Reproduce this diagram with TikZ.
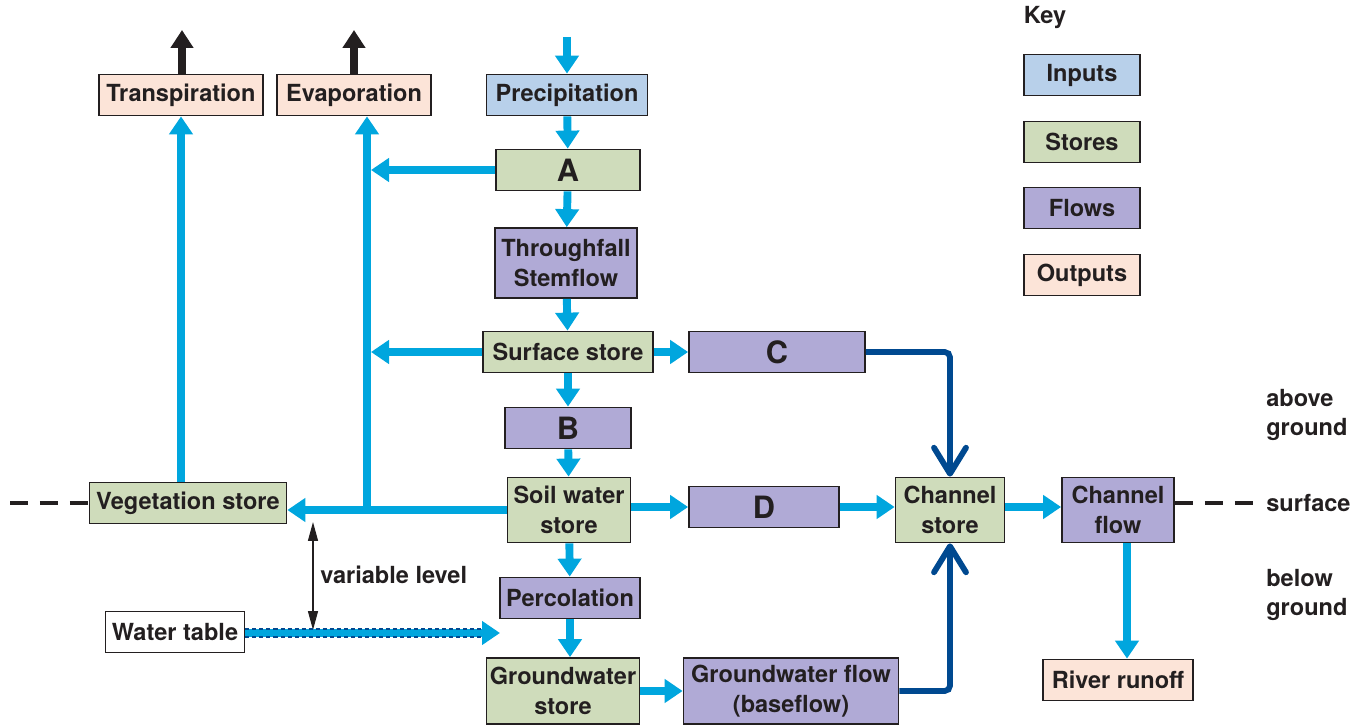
\documentclass[tikz,border=0pt]{standalone}
\usepackage{fontspec}
\setmainfont{TeX Gyre Heros}
\usepackage{tikz}
\usetikzlibrary{arrows.meta, positioning, calc}
\definecolor{ink}{RGB}{35,31,32}
\definecolor{flowblue}{RGB}{0,166,222}
\definecolor{deepblue}{RGB}{0,73,144}
\definecolor{inputfill}{RGB}{184,208,234}
\definecolor{storefill}{RGB}{207,220,187}
\definecolor{flowfill}{RGB}{176,170,214}
\definecolor{outputfill}{RGB}{252,228,216}
\newcommand{\diafont}{\fontsize{13.4}{17}\selectfont\bfseries}
\newcommand{\letterfont}{\fontsize{17.5}{20}\selectfont\bfseries}
\tikzstyle{box} = [rectangle, draw=ink, line width=1pt, inner sep=0pt, minimum height=0.82cm, align=center, text=ink, font=\diafont]
\tikzstyle{input} = [box, fill=inputfill]
\tikzstyle{store} = [box, fill=storefill]
\tikzstyle{flow} = [box, fill=flowfill]
\tikzstyle{output} = [box, fill=outputfill]
\tikzstyle{plainbox} = [box, fill=white]
\tikzstyle{side} = [anchor=west, align=left, inner sep=0pt, text=ink, font=\diafont]
\tikzstyle{arrow} = [line width=4.5pt, flowblue, -{Triangle[length=3.6mm, width=4.6mm]}]
\tikzstyle{uparrow} = [line width=4.5pt, ink, -{Triangle[length=3.6mm, width=4.4mm]}]
\tikzstyle{quickflow} = [line width=3.3pt, deepblue, rounded corners=3pt, -{Straight Barb[length=5.2mm, width=6.4mm, round]}]
\tikzstyle{ground} = [line width=2.5pt, ink, dash pattern=on 0.36cm off 0.24cm]
\tikzstyle{vlarrow} = [line width=0.8pt, ink, {Triangle[length=3.8mm, width=2mm]}-{Triangle[length=3.8mm, width=2mm]}]
\tikzstyle{wtdots} = [line width=5.7pt, deepblue, dash pattern=on 2.3pt off 1.7pt]

\begin{document}
\begin{tikzpicture}[x=0.02cm, y=-0.02cm]
    \useasboundingbox (0,0) rectangle (1370,726);

    % Outputs
    \node[output, minimum width=3.28cm] (transp) at (181,95) {Transpiration};
    \node[output, minimum width=3.08cm] (evap) at (354,95) {Evaporation};

    % Main column
    \node[input, minimum width=3.22cm] (prec) at (567,95) {Precipitation};
    \node[store, minimum width=2.88cm, font=\letterfont] (a) at (568,170) {A};
    \node[flow, minimum width=2.84cm, minimum height=1.4cm] (thru) at (566,263) {Throughfall\\Stemflow};
    \node[store, minimum width=3.4cm] (surf) at (568,352) {Surface store};
    \node[flow, minimum width=3.52cm, font=\letterfont] (c) at (777,352) {C};
    \node[flow, minimum width=2.52cm, font=\letterfont] (b) at (568,428) {B};
    \node[store, minimum width=2.46cm, minimum height=1.3cm] (soil) at (569,510) {Soil water\\store};
    \node[flow, minimum width=3cm, font=\letterfont] (d) at (764,507) {D};
    \node[store, minimum width=2.18cm, minimum height=1.3cm] (chstore) at (950,510) {Channel\\store};
    \node[flow, minimum width=2.24cm, minimum height=1.3cm] (chflow) at (1118,510) {Channel\\flow};
    \node[store, minimum width=3.94cm] (veg) at (188,503) {Vegetation store};
    \node[flow, minimum width=2.8cm] (perc) at (570,598) {Percolation};
    \node[plainbox, minimum width=2.78cm] (wt) at (175,632) {Water table};
    \node[store, minimum width=3.06cm, minimum height=1.32cm] (gwstore) at (563,691) {Groundwater\\store};
    \node[flow, minimum width=4.3cm, minimum height=1.32cm] (gwflow) at (791,691) {Groundwater flow\\(baseflow)};
    \node[output, minimum width=3cm] (river) at (1118,680) {River runoff};

    % Key
    \node[text=ink, font=\diafont] (key) at (1045,18) {Key};
    \node[input, minimum width=2.32cm] (kin) at (1082,75) {Inputs};
    \node[store, minimum width=2.32cm] (kst) at (1082,142) {Stores};
    \node[flow, minimum width=2.32cm] (kfl) at (1082,208) {Flows};
    \node[output, minimum width=2.32cm] (kout) at (1082,275) {Outputs};

    % Labels
    \node[side] (above) at (1266,415) {above\\ground};
    \node[side] (surface) at (1266,503) {surface};
    \node[side] (below) at (1266,595) {below\\ground};
    \node[side] (varlevel) at (320,575) {variable level};

    \coordinate (rain) at (567,37);
    \coordinate (sky) at (0,30);
    \coordinate (trunk) at (367,510);
    \coordinate (trunkedge) at (371,510);
    \coordinate (vltop) at (313,522);
    \coordinate (vlbot) at (313,630);
    \coordinate (wtend) at (500,633);
    \coordinate (wtshaft) at (484,633);
    \coordinate (westend) at (10,503);
    \coordinate (eastend) at (1258,503);

    % Ground surface
    \draw[ground] (westend) -- (veg);
    \draw[ground] (chflow.east |- eastend) -- (eastend);

    % Flows down the column
    \draw[arrow] (rain) -- (prec);
    \draw[arrow] (prec) -- (a);
    \draw[arrow] (a) -- (thru);
    \draw[arrow] (thru) -- (surf);
    \draw[arrow] (surf) -- (b);
    \draw[arrow] (b) -- (soil);
    \draw[arrow] (soil) -- (perc);
    \draw[arrow] (perc) -- (perc |- gwstore.north);
    \draw[arrow] (gwstore) -- (gwflow);

    % Flows to the channel
    \draw[arrow] (surf) -- (c);
    \draw[arrow] (soil.east |- d) -- (d);
    \draw[arrow] (d) -- (d -| chstore.west);
    \draw[arrow] (chstore.east |- d) -- (chflow.west |- d);
    \draw[arrow] ([xshift=1.8mm]chflow.south) -- ([xshift=1.8mm]river.north);
    \draw[quickflow] (c) -| (chstore);
    \draw[quickflow] (gwflow) -| (chstore);

    % Evaporation and transpiration
    \draw[arrow] (a) -- (a -| trunkedge);
    \draw[arrow] (surf) -- (surf -| trunkedge);
    \draw[arrow] (soil.west |- trunk) -- (veg.east |- trunk);
    \draw[arrow] (trunk) -- (trunk |- evap.south);
    \draw[arrow] (transp |- veg.north) -- (transp.south);
    \draw[uparrow] ([xshift=0.02cm]transp.north) -- ([xshift=0.02cm]transp.north |- sky);
    \draw[uparrow] (evap.north) -- (evap.north |- sky);

    % Water table
    \draw[vlarrow] (vltop) -- (vlbot);
    \draw[arrow] (wt.east |- wtend) -- (wtend);
    \draw[wtdots] (wt.east |- wtend) -- (wtshaft);
    \draw[line width=3.4pt, flowblue] (wt.east |- wtend) -- (wtshaft);
\end{tikzpicture}
\end{document}
